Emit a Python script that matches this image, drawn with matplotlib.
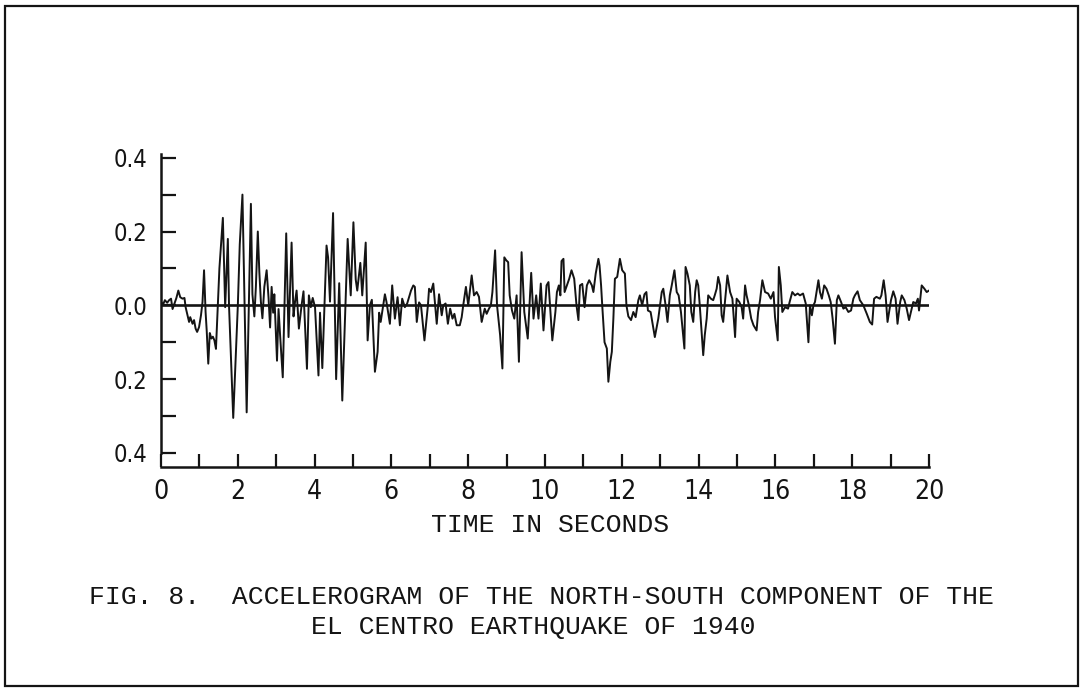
import matplotlib
matplotlib.use('Agg')
import matplotlib.pyplot as plt
from matplotlib.patches import Rectangle

# turning points of the trace
time_s = [0.00, 0.06, 0.10, 0.16, 0.21, 0.26, 0.30, 0.35, 0.40, 0.45, 0.50, 0.56, 0.61, 0.64, 0.69,
          0.73, 0.76, 0.82, 0.86, 0.90, 0.94, 0.99, 1.04, 1.08, 1.12, 1.16, 1.19, 1.23, 1.27, 1.31,
          1.35, 1.39, 1.43, 1.52, 1.61, 1.67, 1.74, 1.77, 1.88, 2.00, 2.05, 2.12, 2.23, 2.34, 2.38,
          2.43, 2.47, 2.52, 2.56, 2.60, 2.64, 2.69, 2.75, 2.80, 2.84, 2.88, 2.92, 2.95, 3.02, 3.06,
          3.10, 3.17, 3.26, 3.32, 3.40, 3.45, 3.49, 3.53, 3.59, 3.66, 3.71, 3.80, 3.85, 3.90, 3.95,
          4.01, 4.10, 4.14, 4.20, 4.31, 4.35, 4.40, 4.48, 4.56, 4.64, 4.72, 4.86, 4.94, 5.01, 5.07,
          5.11, 5.19, 5.24, 5.33, 5.38, 5.44, 5.49, 5.57, 5.64, 5.68, 5.72, 5.83, 5.87, 5.96, 6.02,
          6.09, 6.16, 6.22, 6.28, 6.35, 6.41, 6.51, 6.57, 6.61, 6.66, 6.72, 6.77, 6.86, 6.95, 6.98,
          7.03, 7.09, 7.14, 7.18, 7.24, 7.31, 7.35, 7.41, 7.47, 7.53, 7.59, 7.64, 7.70, 7.78, 7.83,
          7.87, 7.94, 8.00, 8.09, 8.15, 8.22, 8.28, 8.35, 8.43, 8.48, 8.54, 8.59, 8.63, 8.70, 8.75,
          8.83, 8.89, 8.94, 8.99, 9.04, 9.08, 9.14, 9.20, 9.26, 9.32, 9.39, 9.46, 9.55, 9.64, 9.70,
          9.77, 9.83, 9.89, 9.96, 10.04, 10.09, 10.13, 10.19, 10.27, 10.31, 10.36, 10.40, 10.43, 10.48, 10.51,
          10.57, 10.63, 10.69, 10.76, 10.82, 10.87, 10.91, 10.97, 11.03, 11.09, 11.15, 11.22, 11.26, 11.32, 11.39,
          11.42, 11.46, 11.49, 11.55, 11.61, 11.65, 11.70, 11.74, 11.78, 11.82, 11.88, 11.95, 12.01, 12.08, 12.12,
          12.17, 12.24, 12.30, 12.36, 12.43, 12.47, 12.53, 12.59, 12.64, 12.68, 12.75, 12.86, 12.95, 13.04, 13.08,
          13.14, 13.19, 13.25, 13.30, 13.37, 13.43, 13.48, 13.54, 13.63, 13.66, 13.71, 13.77, 13.81, 13.86, 13.91,
          13.95, 13.99, 14.03, 14.12, 14.16, 14.21, 14.25, 14.32, 14.38, 14.42, 14.47, 14.51, 14.56, 14.60, 14.64,
          14.69, 14.75, 14.82, 14.88, 14.95, 14.99, 15.06, 15.12, 15.16, 15.21, 15.25, 15.31, 15.37, 15.43, 15.51,
          15.55, 15.60, 15.66, 15.73, 15.81, 15.88, 15.95, 15.99, 16.06, 16.09, 16.14, 16.18, 16.25, 16.33, 16.37,
          16.44, 16.51, 16.58, 16.64, 16.72, 16.79, 16.86, 16.90, 16.95, 16.99, 17.03, 17.12, 17.16, 17.21, 17.27,
          17.33, 17.39, 17.44, 17.49, 17.55, 17.60, 17.64, 17.71, 17.77, 17.83, 17.90, 17.97, 18.03, 18.07, 18.14,
          18.20, 18.29, 18.38, 18.46, 18.52, 18.57, 18.63, 18.72, 18.76, 18.82, 18.87, 18.92, 18.96, 19.01, 19.07,
          19.13, 19.18, 19.25, 19.29, 19.36, 19.42, 19.48, 19.53, 19.59, 19.66, 19.71, 19.74, 19.81, 19.88, 19.94,
          20.00]
accel_g = [0.008, 0.004, 0.014, 0.007, 0.014, 0.018, -0.010, 0.005, 0.020, 0.040, 0.022, 0.018, 0.020, -0.005, -0.027,
           -0.045, -0.032, -0.050, -0.040, -0.063, -0.072, -0.059, -0.027, 0.009, 0.095, -0.018, -0.070, -0.158, -0.075, -0.090,
           -0.085, -0.095, -0.118, 0.100, 0.237, -0.005, 0.180, 0.000, -0.305, 0.000, 0.165, 0.300, -0.290, 0.275, 0.030,
           -0.030, 0.050, 0.200, 0.090, 0.010, -0.035, 0.050, 0.095, 0.020, -0.060, 0.050, -0.020, 0.030, -0.150, -0.010,
           -0.080, -0.195, 0.195, -0.086, 0.170, -0.030, 0.010, 0.040, -0.063, 0.000, 0.038, -0.172, 0.027, -0.005, 0.020,
           -0.005, -0.190, -0.020, -0.170, 0.162, 0.130, 0.010, 0.250, -0.200, 0.060, -0.258, 0.180, 0.027, 0.225, 0.070,
           0.040, 0.115, 0.027, 0.170, -0.095, 0.000, 0.015, -0.180, -0.126, -0.020, -0.045, 0.030, 0.010, -0.050, 0.054,
           -0.036, 0.022, -0.054, 0.018, -0.005, 0.005, 0.040, 0.054, 0.050, -0.045, 0.008, 0.000, -0.095, 0.000, 0.045,
           0.036, 0.059, 0.000, -0.050, 0.030, -0.027, 0.000, 0.005, -0.050, -0.009, -0.036, -0.023, -0.054, -0.054, -0.032,
           0.000, 0.050, 0.000, 0.081, 0.027, 0.036, 0.023, -0.045, -0.009, -0.023, -0.009, 0.000, 0.036, 0.149, 0.000,
           -0.080, -0.171, 0.130, 0.122, 0.117, 0.027, -0.014, -0.036, 0.027, -0.153, 0.144, -0.018, -0.090, 0.088, -0.036,
           0.027, -0.036, 0.059, -0.068, 0.054, 0.063, 0.000, -0.095, -0.018, 0.036, 0.054, 0.027, 0.120, 0.126, 0.036,
           0.054, 0.072, 0.095, 0.072, 0.000, -0.040, 0.054, 0.058, -0.005, 0.054, 0.068, 0.054, 0.036, 0.086, 0.126,
           0.108, 0.054, 0.000, -0.100, -0.117, -0.207, -0.153, -0.126, -0.036, 0.072, 0.077, 0.126, 0.095, 0.086, 0.000,
           -0.030, -0.040, -0.018, -0.032, 0.014, 0.027, 0.000, 0.030, 0.036, -0.014, -0.018, -0.086, -0.036, 0.036, 0.045,
           0.000, -0.045, 0.027, 0.054, 0.095, 0.036, 0.027, -0.018, -0.117, 0.104, 0.086, 0.054, -0.018, -0.045, 0.036,
           0.068, 0.054, 0.000, -0.135, -0.081, -0.036, 0.027, 0.018, 0.014, 0.027, 0.045, 0.077, 0.054, -0.027, -0.045,
           0.014, 0.081, 0.036, 0.018, -0.086, 0.018, 0.009, -0.005, -0.036, 0.054, 0.027, 0.000, -0.036, -0.054, -0.068,
           -0.018, 0.014, 0.068, 0.036, 0.032, 0.018, 0.036, -0.032, -0.095, 0.104, 0.054, -0.018, -0.005, -0.009, 0.009,
           0.036, 0.027, 0.032, 0.027, 0.032, 0.005, -0.100, 0.000, -0.027, 0.000, 0.009, 0.068, 0.036, 0.018, 0.054,
           0.045, 0.027, 0.009, -0.036, -0.104, 0.014, 0.027, 0.009, -0.009, -0.005, -0.018, -0.014, 0.018, 0.027, 0.038,
           0.014, 0.000, -0.023, -0.045, -0.052, 0.018, 0.023, 0.018, 0.027, 0.068, 0.027, -0.045, -0.018, 0.014, 0.038,
           0.018, -0.050, 0.009, 0.027, 0.014, -0.009, -0.040, -0.018, 0.009, 0.005, 0.018, -0.014, 0.054, 0.045, 0.036,
           0.040]

y_ticks = [-0.4, -0.3, -0.2, -0.1, 0.0, 0.1, 0.2, 0.3, 0.4]
y_labels = ['0.4', '', '0.2', '', '0.0', '', '0.2', '', '0.4']
x_ticks = list(range(0, 21))
x_labels = [str(t) if t % 2 == 0 else '' for t in x_ticks]

caption1 = 'FIG. 8.  ACCELEROGRAM OF THE NORTH-SOUTH COMPONENT OF THE'
caption2 = 'EL CENTRO EARTHQUAKE OF 1940'

ink = '#141414'
mono = ['Liberation Mono', 'DejaVu Sans Mono']

fig = plt.figure(figsize=(10.83, 6.9), dpi=100)
ax = fig.add_axes([0.1487, 0.3232, 0.7091, 0.4536])

ax.plot(time_s, accel_g, color=ink, lw=1.4)
ax.axhline(0, color=ink, lw=1.9)

ax.set_xlim(0, 20)
ax.set_ylim(-0.438, 0.41)
ax.spines['top'].set_visible(False)
ax.spines['right'].set_visible(False)
ax.spines['left'].set_bounds(-0.4, 0.41)
for side in ['left', 'bottom']:
    ax.spines[side].set_linewidth(1.8)
    ax.spines[side].set_color(ink)

ax.set_yticks(y_ticks)
ax.set_yticklabels(y_labels, family='DejaVu Sans', stretch='condensed', fontsize=17)
ax.set_xticks(x_ticks)
ax.set_xticklabels(x_labels, family='DejaVu Sans', stretch='condensed', fontsize=19)
ax.tick_params(axis='y', direction='in', length=11, width=1.6, pad=10, colors=ink)
ax.tick_params(axis='x', direction='in', length=9.5, width=1.6, pad=9, colors=ink)

fig.text(550 / 1083, 1 - 525 / 690, 'TIME IN SECONDS', ha='center', va='center',
         family=mono, fontsize=19, color=ink)
fig.text(541 / 1083, 1 - 597 / 690, caption1, ha='center', va='center',
         family=mono, fontsize=19, color=ink)
fig.text(533 / 1083, 1 - 627 / 690, caption2, ha='center', va='center',
         family=mono, fontsize=19, color=ink)

fig.patches.append(Rectangle((0.0046, 0.0058), 0.9908, 0.9855, transform=fig.transFigure,
                             fill=False, lw=1.6, edgecolor=ink))

fig.savefig('out.png', dpi=100)
